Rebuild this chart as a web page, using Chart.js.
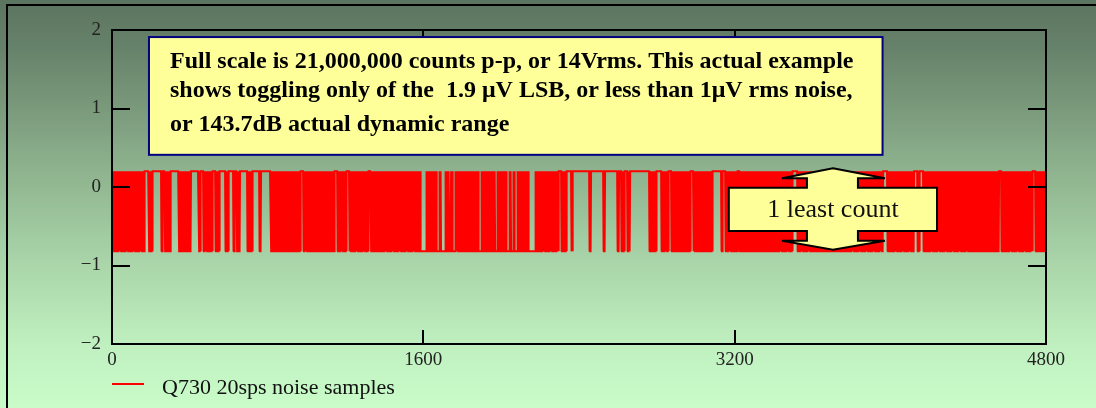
<!DOCTYPE html>
<html>
<head>
<meta charset="utf-8">
<script src="https://cdn.jsdelivr.net/npm/chart.js@4.4.1/dist/chart.umd.min.js"></script>
<style>
    html, body { margin: 0; padding: 0; background: #c8fac8; }
    #wrap { width: 1096px; height: 408px; }
</style>
</head>
<body>
<div id="wrap"><canvas id="noiseChart" width="1096" height="408"></canvas></div>
<script>
// Q730 noise record: the reading toggles between two adjacent codes (1 LSB apart)
const sampleCount = 4800;
const levelHigh = 0.2;
const levelLow = -0.82;

// stretches where the trace stays on one code (sample index from / to / code),
// read off the picture; everywhere else it toggles sample by sample
const flatFrom  = [168, 211, 262, 303, 406, 457, 519, 555, 601, 632, 658, 725, 766,
                   971, 1146, 1208, 1321, 1588, 1670, 1691, 1732, 1753, 1886,
                   1969, 2030, 2051, 2071, 2143, 2298, 2339, 2370, 2462, 2534, 2606, 2637, 2663, 2801, 2863,
                   2976, 3089, 3141, 3213, 3500, 3963, 4122, 4153, 4559, 4734];
const flatTo    = [190, 252, 272, 344, 447, 468, 530, 581, 622, 642, 694, 756, 817,
                   982, 1157, 1218, 1331, 1614, 1681, 1712, 1742, 1763, 1897,
                   1979, 2041, 2061, 2082, 2174, 2308, 2359, 2452, 2524, 2596, 2616, 2647, 2760, 2822, 2873,
                   2986, 3130, 3151, 3223, 3521, 3984, 4138, 4169, 4569, 4744];
const flatLevel = ['H', 'H', 'H', 'H', 'H', 'H', 'H', 'H', 'H', 'H', 'H', 'H', 'H',
                   'H', 'H', 'H', 'H', 'L', 'L', 'L', 'L', 'L', 'L',
                   'L', 'L', 'L', 'L', 'L', 'H', 'H', 'H', 'H', 'H', 'H', 'H', 'H', 'H', 'H',
                   'H', 'H', 'H', 'H', 'H', 'H', 'H', 'H', 'H', 'H'];

const xTicks = [0, 1600, 3200, 4800];
const yTicks = [-2, -1, 0, 1, 2];
const seriesName = "Q730 20sps noise samples";

const noteLines = [
    "Full scale is 21,000,000 counts p-p, or 14Vrms. This actual example",
    "shows toggling only of the  1.9 \u03bcV LSB, or less than 1\u03bcV rms noise,",
    "or 143.7dB actual dynamic range"
];
const countLabel = "1 least count";

// expand the runs into the sample list
let samples = [];
let g = 0;
let prev = levelLow;
for (let i = 0; i <= sampleCount; i++) {
    while (g < flatFrom.length && i > flatTo[g]) g++;
    let v;
    if (g < flatFrom.length && i >= flatFrom[g]) {
        v = flatLevel[g] === 'H' ? levelHigh : levelLow;
    } else {
        v = prev === levelHigh ? levelLow : levelHigh;
    }
    samples.push({ x: i, y: v });
    prev = v;
}

const serif = "'Liberation Serif', 'Times New Roman', serif";

const decorPlugin = {
    id: 'decor',
    beforeDraw(chart) {
        const ctx = chart.ctx;
        const w = chart.width, h = chart.height;
        let grad = ctx.createLinearGradient(0, 0, 0, h);
        grad.addColorStop(0, '#5b7460');
        grad.addColorStop(0.12, '#67826a');
        grad.addColorStop(0.4, '#8cb08c');
        grad.addColorStop(0.65, '#aad6aa');
        grad.addColorStop(0.85, '#c0f0c0');
        grad.addColorStop(1, '#c9fcc9');
        ctx.save();
        ctx.fillStyle = grad;
        ctx.fillRect(0, 0, w, h);
        // outer frame
        ctx.strokeStyle = '#000';
        ctx.lineWidth = 2;
        ctx.beginPath();
        ctx.moveTo(7, h);
        ctx.lineTo(7, 5);
        ctx.lineTo(w, 5);
        ctx.stroke();
        ctx.restore();
    },
    afterDatasetsDraw(chart) {
        const ctx = chart.ctx;
        const a = chart.chartArea;
        const xs = chart.scales.x, ys = chart.scales.y;
        ctx.save();

        // plot frame + inward ticks
        ctx.strokeStyle = '#000';
        ctx.lineWidth = 2;
        ctx.strokeRect(a.left, a.top, a.right - a.left, a.bottom - a.top);
        ctx.beginPath();
        yTicks.forEach(v => {
            const py = Math.round(ys.getPixelForValue(v));
            ctx.moveTo(a.left, py); ctx.lineTo(a.left + 18, py);
            ctx.moveTo(a.right, py); ctx.lineTo(a.right - 18, py);
        });
        xTicks.forEach(v => {
            const px = Math.round(xs.getPixelForValue(v));
            ctx.moveTo(px, a.bottom); ctx.lineTo(px, a.bottom - 14);
            ctx.moveTo(px, a.top); ctx.lineTo(px, a.top + 14);
        });
        ctx.stroke();

        // explanation box
        const bx0 = xs.getPixelForValue(190), bx1 = xs.getPixelForValue(3960);
        const by0 = ys.getPixelForValue(1.91), by1 = ys.getPixelForValue(0.41);
        ctx.fillStyle = '#ffff99';
        ctx.fillRect(bx0, by0, bx1 - bx0, by1 - by0);
        ctx.strokeStyle = '#000080';
        ctx.lineWidth = 2;
        ctx.strokeRect(bx0, by0, bx1 - bx0, by1 - by0);
        ctx.fillStyle = '#000';
        ctx.font = 'bold 24px ' + serif;
        ctx.textBaseline = 'alphabetic';
        ctx.textAlign = 'left';
        const baseOff = [30.5, 60, 94];
        noteLines.forEach((t, i) => ctx.fillText(t, bx0 + 21, by0 + baseOff[i]));

        // double arrow with "1 least count"
        const cx = xs.getPixelForValue(3705);
        const tipT = ys.getPixelForValue(0.24), tipB = ys.getPixelForValue(-0.8);
        const wingT = tipT + 10, wingB = tipB - 9;
        const boxT = ys.getPixelForValue(-0.01), boxB = ys.getPixelForValue(-0.56);
        const shL = cx - 26, shR = cx + 25;
        const wgL = cx - 51, wgR = cx + 52;
        const bL = xs.getPixelForValue(3170), bR = xs.getPixelForValue(4240);
        ctx.beginPath();
        ctx.moveTo(cx, tipT);
        ctx.lineTo(wgR, wingT);
        ctx.lineTo(shR, wingT);
        ctx.lineTo(shR, boxT);
        ctx.lineTo(bR, boxT);
        ctx.lineTo(bR, boxB);
        ctx.lineTo(shR, boxB);
        ctx.lineTo(shR, wingB);
        ctx.lineTo(wgR, wingB);
        ctx.lineTo(cx, tipB);
        ctx.lineTo(wgL, wingB);
        ctx.lineTo(shL, wingB);
        ctx.lineTo(shL, boxB);
        ctx.lineTo(bL, boxB);
        ctx.lineTo(bL, boxT);
        ctx.lineTo(shL, boxT);
        ctx.lineTo(shL, wingT);
        ctx.lineTo(wgL, wingT);
        ctx.closePath();
        ctx.fillStyle = '#ffff99';
        ctx.fill();
        ctx.strokeStyle = '#000';
        ctx.lineWidth = 2;
        ctx.lineJoin = 'miter';
        ctx.stroke();
        ctx.fillStyle = '#111';
        ctx.font = '26px ' + serif;
        ctx.textAlign = 'center';
        ctx.textBaseline = 'middle';
        ctx.fillText(countLabel, (bL + bR) / 2, (boxT + boxB) / 2 + 1);

        // legend
        const ds = chart.data.datasets[0];
        ctx.strokeStyle = ds.borderColor;
        ctx.lineWidth = 2;
        ctx.beginPath();
        ctx.moveTo(a.left, 384);
        ctx.lineTo(a.left + 32, 384);
        ctx.stroke();
        ctx.fillStyle = '#111';
        ctx.font = '22px ' + serif;
        ctx.textAlign = 'left';
        ctx.textBaseline = 'alphabetic';
        ctx.fillText(ds.label, a.left + 50, 394);
        ctx.restore();
    }
};

const minus = v => (v < 0 ? '\u2212' + Math.abs(v) : String(v));

new Chart(document.getElementById('noiseChart'), {
    type: 'line',
    data: {
        datasets: [{
            label: seriesName,
            data: samples,
            borderColor: '#ff0000',
            borderWidth: 2,
            pointRadius: 0,
            tension: 0,
            fill: false
        }]
    },
    options: {
        responsive: false,
        animation: false,
        events: [],
        layout: { padding: { top: 30, right: 50, left: 0, bottom: 0 } },
        plugins: {
            legend: { display: false },
            tooltip: { enabled: false }
        },
        scales: {
            x: {
                type: 'linear',
                min: 0,
                max: 4800,
                afterBuildTicks: s => { s.ticks = xTicks.map(v => ({ value: v })); },
                afterFit: s => { s.height = 64; },
                grid: { display: false, drawTicks: false },
                border: { display: false },
                ticks: {
                    padding: 5,
                    maxRotation: 0,
                    color: '#222',
                    font: { family: serif, size: 19 },
                    callback: v => minus(v)
                }
            },
            y: {
                type: 'linear',
                min: -2,
                max: 2,
                afterBuildTicks: s => { s.ticks = yTicks.map(v => ({ value: v })); },
                afterFit: s => { s.width = 112; },
                grid: { display: false, drawTicks: false },
                border: { display: false },
                ticks: {
                    padding: 11,
                    color: '#222',
                    font: { family: serif, size: 19 },
                    callback: v => minus(v)
                }
            }
        }
    },
    plugins: [decorPlugin]
});
</script>
</body>
</html>
